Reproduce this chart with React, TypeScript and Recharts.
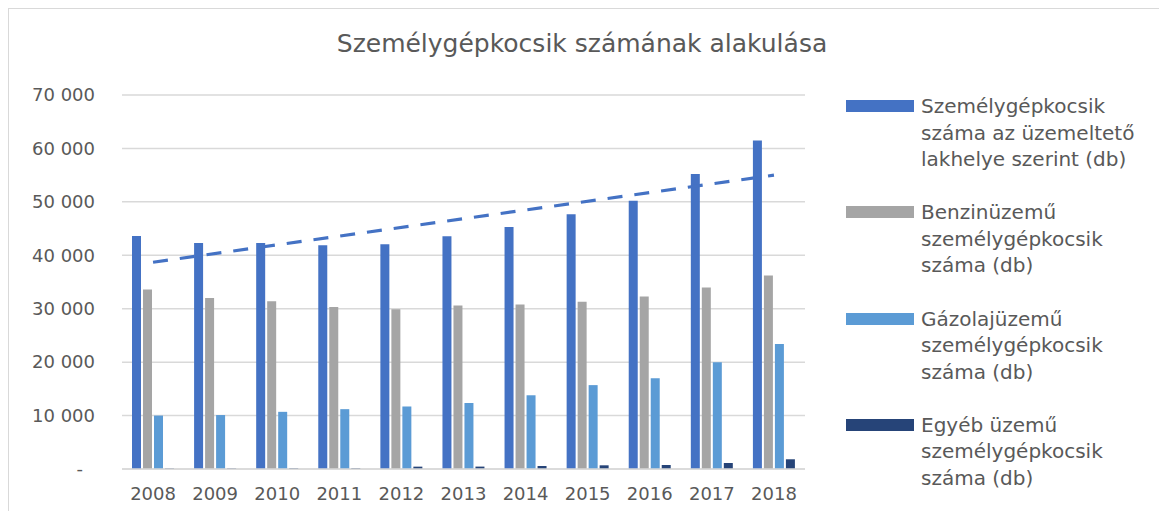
import { ComposedChart, Bar, Line, XAxis, YAxis, CartesianGrid } from "recharts";

const YEARS = ["2008", "2009", "2010", "2011", "2012", "2013", "2014", "2015", "2016", "2017", "2018"];
const TOTAL = [43600, 42300, 42300, 41900, 42050, 43550, 45300, 47700, 50200, 55200, 61500];
const PETROL = [33600, 32000, 31400, 30300, 29900, 30600, 30800, 31300, 32300, 33950, 36200];
const DIESEL = [10000, 10100, 10700, 11200, 11700, 12350, 13800, 15700, 17000, 20000, 23400];
const OTHER = [100, 110, 140, 150, 440, 450, 560, 690, 750, 1120, 1820];
// linear trendline of TOTAL, only its two end points
const TREND = [38700, null, null, null, null, null, null, null, null, null, 55000];

const Y_TICKS = [0, 10000, 20000, 30000, 40000, 50000, 60000, 70000];
const Y_TICK_LABELS = ["-", "10 000", "20 000", "30 000", "40 000", "50 000", "60 000", "70 000"];

const TITLE = "Személygépkocsik számának alakulása";
const SERIES = [
  { key: "total", color: "#4472C4", lines: ["Személygépkocsik", "száma az üzemeltető", "lakhelye szerint (db)"] },
  { key: "petrol", color: "#A5A5A5", lines: ["Benzinüzemű", "személygépkocsik", "száma (db)"] },
  { key: "diesel", color: "#5B9BD5", lines: ["Gázolajüzemű", "személygépkocsik", "száma (db)"] },
  { key: "other", color: "#264478", lines: ["Egyéb üzemű", "személygépkocsik", "száma (db)"] },
];

const data = YEARS.map((year, i) => ({
  year,
  total: TOTAL[i],
  petrol: PETROL[i],
  diesel: DIESEL[i],
  other: OTHER[i],
  trend: TREND[i],
}));

const FONT = "'DejaVu Sans', sans-serif";
const TEXT = "#595959";

function YTick(props: any) {
  const { x, y, payload } = props;
  const idx = Y_TICKS.indexOf(payload.value);
  const label = Y_TICK_LABELS[idx] ?? String(payload.value);
  const shift = payload.value === 0 ? -12 : 0;
  return (
    <text x={x + shift} y={y} dy="0.35em" textAnchor="end" fill={TEXT} fontSize={18} fontFamily={FONT}>
      {label}
    </text>
  );
}

export default function App() {
  return (
    <div
      style={{
        position: "relative",
        width: 1151,
        height: 503,
        boxSizing: "border-box",
        borderTop: "1px solid #d9d9d9",
        borderLeft: "1px solid #d9d9d9",
        background: "#fff",
        fontFamily: FONT,
        color: TEXT,
      }}
    >
      <div
        style={{
          position: "absolute",
          left: 2,
          top: 22,
          width: 1142,
          textAlign: "center",
          fontSize: 25,
          lineHeight: "25px",
        }}
      >
        {TITLE}
      </div>

      <ComposedChart
        width={1142}
        height={494}
        data={data}
        margin={{ top: 86, right: 346, bottom: 4, left: 0 }}
        barSize={9}
        barGap={2}
      >
        <CartesianGrid vertical={false} stroke="#d9d9d9" strokeWidth={1.5} />
        <XAxis
          dataKey="year"
          height={30}
          tickLine={false}
          axisLine={{ stroke: "#d9d9d9", strokeWidth: 1.5 }}
          tickSize={0}
          tickMargin={18}
          tick={{ fill: TEXT, fontSize: 18, fontFamily: FONT }}
          interval={0}
        />
        <YAxis
          width={113}
          domain={[0, 70000]}
          ticks={Y_TICKS}
          axisLine={false}
          tickLine={false}
          tickSize={0}
          tickMargin={27}
          tick={<YTick />}
        />
        {SERIES.map((s) => (
          <Bar key={s.key} dataKey={s.key} fill={s.color} isAnimationActive={false} />
        ))}
        <Line
          dataKey="trend"
          stroke="#4472C4"
          strokeWidth={3.2}
          strokeDasharray="15 12"
          dot={false}
          activeDot={false}
          connectNulls
          isAnimationActive={false}
        />
      </ComposedChart>

      {SERIES.map((s, i) => (
        <div
          key={s.key}
          style={{
            position: "absolute",
            left: 837,
            top: 84 + i * 106.3,
            display: "flex",
            alignItems: "flex-start",
            fontSize: 20,
            lineHeight: "26.5px",
          }}
        >
          <div style={{ width: 68, height: 12, marginTop: 7, background: s.color, marginRight: 7 }} />
          <div>
            {s.lines.map((l) => (
              <div key={l}>{l}</div>
            ))}
          </div>
        </div>
      ))}
    </div>
  );
}
